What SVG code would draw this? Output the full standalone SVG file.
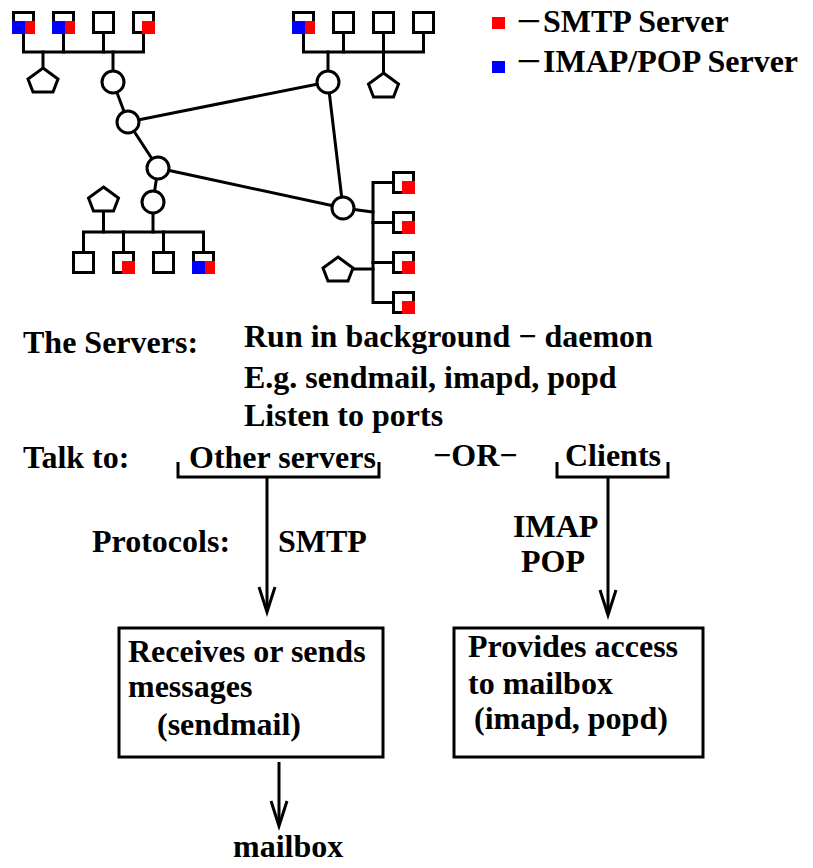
<svg xmlns="http://www.w3.org/2000/svg" width="813" height="868" viewBox="0 0 813 868">
<style>
text{font-family:"Liberation Serif","Times New Roman",serif;font-weight:bold;font-size:32px;fill:#000}
.ln{stroke:#000;stroke-width:3;fill:none;stroke-linecap:square}
.sq{stroke:#000;stroke-width:3;fill:#fff}
.nd{stroke:#000;stroke-width:3;fill:#fff}
.r{fill:#ff0000}
.b{fill:#0000ff}
</style>
<defs>
<rect id="host" class="sq" x="0" y="0" width="20" height="20"/>
<polygon id="pent" class="nd" points="0,0 15,11 10,24 -10,24 -15,11"/>
<circle id="rtr" class="nd" cx="0" cy="0" r="11"/>
</defs>

<g id="connectors">
  <!-- backbone -->
  <line class="ln" x1="113" y1="82" x2="128" y2="122"/>
  <line class="ln" x1="128" y1="122" x2="328" y2="82"/>
  <line class="ln" x1="128" y1="122" x2="158" y2="168"/>
  <line class="ln" x1="158" y1="168" x2="153" y2="202"/>
  <line class="ln" x1="158" y1="168" x2="343" y2="208"/>
  <line class="ln" x1="328" y1="82" x2="343" y2="208"/>
  <line class="ln" x1="343" y1="208" x2="373" y2="212"/>
  <!-- top-left LAN -->
  <polyline class="ln" points="23.5,32.5 23.5,52 143.5,52 143.5,32.5"/>
  <line class="ln" x1="63.5" y1="32.5" x2="63.5" y2="52"/>
  <line class="ln" x1="103.5" y1="32.5" x2="103.5" y2="52"/>
  <line class="ln" x1="43" y1="52" x2="43" y2="68"/>
  <line class="ln" x1="113" y1="52" x2="113" y2="71"/>
  <!-- top-right LAN -->
  <polyline class="ln" points="303.5,32.5 303.5,52 423.5,52 423.5,32.5"/>
  <line class="ln" x1="343.5" y1="32.5" x2="343.5" y2="52"/>
  <line class="ln" x1="383.5" y1="32.5" x2="383.5" y2="73"/>
  <line class="ln" x1="328" y1="52" x2="328" y2="71"/>
  <!-- bottom-left LAN -->
  <polyline class="ln" points="83.5,252.5 83.5,232 203.5,232 203.5,252.5"/>
  <line class="ln" x1="123.5" y1="232" x2="123.5" y2="252.5"/>
  <line class="ln" x1="163.5" y1="232" x2="163.5" y2="252.5"/>
  <line class="ln" x1="103.5" y1="211" x2="103.5" y2="232"/>
  <line class="ln" x1="153" y1="213" x2="153" y2="232"/>
  <!-- right LAN -->
  <polyline class="ln" points="393.5,182.5 373,182.5 373,302.5 393.5,302.5"/>
  <line class="ln" x1="373" y1="222.5" x2="393.5" y2="222.5"/>
  <line class="ln" x1="373" y1="262.5" x2="393.5" y2="262.5"/>
  <line class="ln" x1="353" y1="269" x2="373" y2="269"/>
  <!-- brackets and arrows -->
  <polyline class="ln" style="stroke-linecap:butt" points="178,462 178,477 379,477 379,462"/>
  <polyline class="ln" style="stroke-linecap:butt" points="557,462 557,477 668,477 668,462"/>
  <line class="ln" style="stroke-linecap:butt" x1="267" y1="477" x2="267" y2="610"/>
  <polyline class="ln" style="stroke-linecap:butt" points="259,587 267,612 275,587"/>
  <line class="ln" style="stroke-linecap:butt" x1="608" y1="477" x2="608" y2="613"/>
  <polyline class="ln" style="stroke-linecap:butt" points="600,590 608,615 616,590"/>
  <line class="ln" style="stroke-linecap:butt" x1="279" y1="762" x2="279" y2="824"/>
  <polyline class="ln" style="stroke-linecap:butt" points="271,801 279,826 287,801"/>
</g>

<g id="routers">
  <use href="#rtr" x="113" y="82"/>
  <use href="#rtr" x="128" y="122"/>
  <use href="#rtr" x="158" y="168"/>
  <use href="#rtr" x="153" y="202"/>
  <use href="#rtr" x="328" y="82"/>
  <use href="#rtr" x="343" y="208"/>
</g>

<g id="printers">
  <use href="#pent" x="43" y="68"/>
  <use href="#pent" x="383.5" y="73"/>
  <use href="#pent" x="103.5" y="187"/>
  <use href="#pent" x="338" y="257"/>
</g>

<g id="hosts-top-left">
  <use href="#host" x="13.5" y="12.5"/>
  <rect class="b" x="12" y="21" width="13" height="13"/><rect class="r" x="25" y="21" width="10" height="13"/>
  <use href="#host" x="53.5" y="12.5"/>
  <rect class="b" x="52" y="21" width="13" height="13"/><rect class="r" x="65" y="21" width="10" height="13"/>
  <use href="#host" x="93.5" y="12.5"/>
  <use href="#host" x="133.5" y="12.5"/>
  <rect class="r" x="142" y="21" width="13" height="13"/>
</g>

<g id="hosts-top-right">
  <use href="#host" x="293.5" y="12.5"/>
  <rect class="b" x="292" y="21" width="13" height="13"/><rect class="r" x="305" y="21" width="10" height="13"/>
  <use href="#host" x="333.5" y="12.5"/>
  <use href="#host" x="373.5" y="12.5"/>
  <use href="#host" x="413.5" y="12.5"/>
</g>

<g id="hosts-bottom-left">
  <use href="#host" x="73.5" y="252.5"/>
  <use href="#host" x="113.5" y="252.5"/>
  <rect class="r" x="122" y="261" width="13" height="13"/>
  <use href="#host" x="153.5" y="252.5"/>
  <use href="#host" x="193.5" y="252.5"/>
  <rect class="b" x="192" y="261" width="13" height="13"/><rect class="r" x="205" y="261" width="10" height="13"/>
</g>

<g id="hosts-right">
  <use href="#host" x="393.5" y="172.5"/>
  <rect class="r" x="402" y="181" width="13" height="13"/>
  <use href="#host" x="393.5" y="212.5"/>
  <rect class="r" x="402" y="221" width="13" height="13"/>
  <use href="#host" x="393.5" y="252.5"/>
  <rect class="r" x="402" y="261" width="13" height="13"/>
  <use href="#host" x="393.5" y="292.5"/>
  <rect class="r" x="402" y="301" width="13" height="13"/>
</g>

<g id="legend">
  <rect class="r" x="492" y="17" width="13" height="12"/>
  <text x="516" y="32"><tspan textLength="25" lengthAdjust="spacingAndGlyphs">−</tspan><tspan x="543">SMTP Server</tspan></text>
  <rect class="b" x="492" y="61" width="13" height="12"/>
  <text x="516" y="72"><tspan textLength="25" lengthAdjust="spacingAndGlyphs">−</tspan><tspan x="543">IMAP/POP Server</tspan></text>
</g>

<g id="servers-text">
  <text x="23" y="353">The Servers:</text>
  <text x="244" y="347">Run in background − daemon</text>
  <text x="244" y="388">E.g. sendmail, imapd, popd</text>
  <text x="244" y="426">Listen to ports</text>
</g>

<g id="talk-to">
  <text x="23" y="468">Talk to:</text>
  <text x="189" y="468">Other servers</text>
  <text x="433" y="466">−OR−</text>
  <text x="565" y="466">Clients</text>
</g>

<g id="protocols">
  <text x="92" y="552">Protocols:</text>
  <text x="278" y="552">SMTP</text>
  <text x="513" y="537">IMAP</text>
  <text x="521" y="572">POP</text>
</g>

<g id="box-sendmail">
  <rect class="sq" x="119" y="628" width="264" height="129"/>
  <text x="128" y="662">Receives or sends</text>
  <text x="128" y="697">messages</text>
  <text x="157" y="735">(sendmail)</text>
</g>

<g id="box-imapd">
  <rect class="sq" x="454" y="628" width="249" height="129"/>
  <text x="468" y="657">Provides access</text>
  <text x="468" y="694">to mailbox</text>
  <text x="474" y="729">(imapd, popd)</text>
</g>

<g id="mailbox">
  <text x="233" y="857">mailbox</text>
</g>
</svg>
